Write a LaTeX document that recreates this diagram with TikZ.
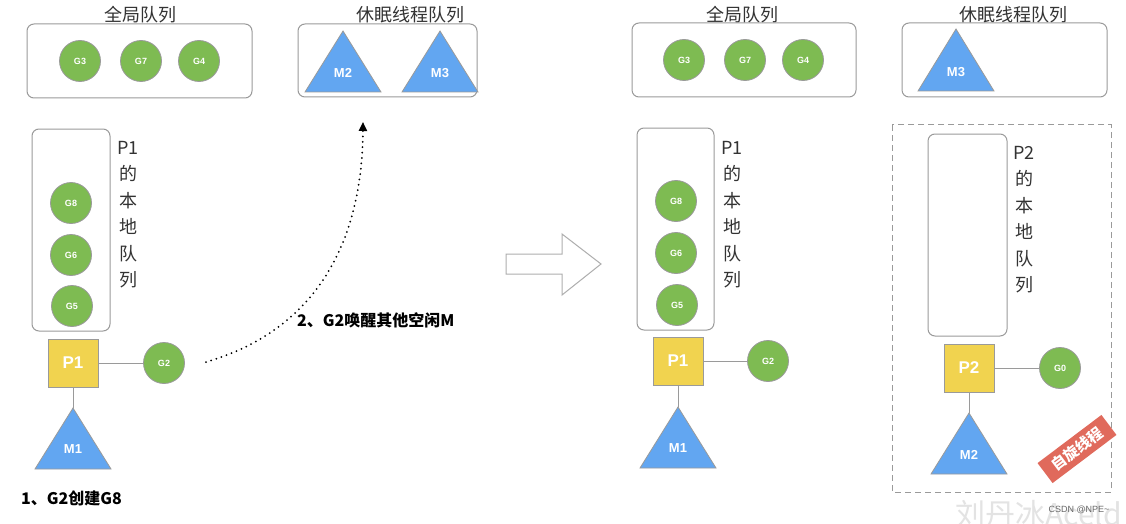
\documentclass[tikz,border=0pt]{standalone}
\usepackage{fontspec}
\setmainfont{Noto Sans CJK SC}
\newfontfamily\lat{Liberation Sans}
\usetikzlibrary{arrows.meta}

\definecolor{ggreen}{HTML}{7EBB52}
\definecolor{pyellow}{HTML}{F1D34F}
\definecolor{mblue}{HTML}{62A6F1}
\definecolor{spinred}{HTML}{E06A5C}
\definecolor{edgegray}{HTML}{9A9A9A}
\definecolor{txtgray}{HTML}{333333}

\begin{document}
\begin{tikzpicture}[x=1pt, y=-1pt,
    gnode/.style={circle, fill=ggreen, draw=edgegray, line width=0.8pt, minimum size=41pt, inner sep=0pt, text=white, font=\lat\bfseries\fontsize{9}{9}\selectfont},
    pnode/.style={rectangle, fill=pyellow, draw=edgegray, line width=0.8pt, minimum width=50pt, minimum height=48pt, text=white, font=\lat\bfseries\fontsize{17}{17}\selectfont},
    mtri/.style={fill=mblue, draw=edgegray, line width=0.8pt},
    mlabel/.style={text=white, inner sep=0pt, font=\lat\bfseries\fontsize{13}{13}\selectfont},
    qbox/.style={draw=edgegray, line width=1pt, rounded corners=7pt},
    title/.style={text=txtgray, inner sep=0pt, font=\fontsize{18}{18}\selectfont},
    vtext/.style={text=txtgray, align=center, anchor=north, inner sep=0pt, font=\fontsize{18}{26.5}\selectfont},
    link/.style={draw=edgegray, line width=1pt},
    note/.style={anchor=west, inner sep=0pt, font=\bfseries\fontsize{16}{16}\selectfont}
]
    \fill[white] (0,0) rectangle (1126,524);
    \useasboundingbox (0,0) rectangle (1126,524);

    % Left: global queue
    \node[title] (gtitle) at (140,15) {全局队列};
    \draw[qbox] (27,24) rectangle (252,98);
    \node[gnode] (g3) at (80,61)  {G3};
    \node[gnode] (g7) at (141,61) {G7};
    \node[gnode] (g4) at (199,61) {G4};

    % Left: sleeping threads
    \node[title] (stitle) at (410,15) {休眠线程队列};
    \draw[qbox] (298,24) rectangle (477,97);
    \draw[mtri] (343,31) -- (381,92) -- (305,92) -- cycle;
    \node[mlabel] (m2) at (343,73) {M2};
    \draw[mtri] (440,31) -- (478,92) -- (402,92) -- cycle;
    \node[mlabel] (m3) at (440,73) {M3};

    % Left: local queue of P1
    \draw[qbox] (32,129) rectangle (110,331);
    \node[vtext] (ltext) at (128,141) {P1\\的\\本\\地\\队\\列};
    \node[gnode] (g8) at (71,203) {G8};
    \node[gnode] (g6) at (71,255) {G6};
    \node[gnode] (g5) at (72,306) {G5};

    % Left: P1, G2, M1
    \node[pnode] (p1) at (73,363) {P1};
    \node[gnode] (g2) at (164,363) {G2};
    \draw[mtri] (73,408) -- (111,469) -- (35,469) -- cycle;
    \coordinate (m1top) at (73,408);
    \node[mlabel] (m1) at (73,449) {M1};
    \draw[link] (p1) -- (g2);
    \draw[link] (p1) -- (m1top);
    \node[note] (step1) at (21,498) {1、G2创建G8};

    % Wake up arrow
    \coordinate (wakefrom) at (206,362);
    \coordinate (waketo) at (363,122);
    \draw[line width=2pt, dash pattern=on 0pt off 5.4pt, line cap=round, -{Triangle[length=9pt,width=8pt]}]
        (wakefrom) .. controls (290,338) and (362,272) .. (waketo);
    \node[note] (step2) at (297,320) {2、G2唤醒其他空闲M};

    % Big arrow
    \draw[draw=edgegray!80, line width=1pt, line join=miter]
        (506,254) -- (562,254) -- (562,234) -- (601,264) -- (562,295) -- (562,274) -- (506,274) -- cycle;

    % Right: global queue
    \node[title] (gtitle2) at (742,15) {全局队列};
    \draw[qbox] (632,23) rectangle (856,97);
    \node[gnode] (g3r) at (684,60) {G3};
    \node[gnode] (g7r) at (745,60) {G7};
    \node[gnode] (g4r) at (803,60) {G4};

    % Right: sleeping threads
    \node[title] (stitle2) at (1013,15) {休眠线程队列};
    \draw[qbox] (902,23) rectangle (1107,97);
    \draw[mtri] (956,29) -- (994,91) -- (918,91) -- cycle;
    \node[mlabel] (m3r) at (956,72) {M3};

    % Right: local queue of P1
    \draw[qbox] (637,128) rectangle (714,330);
    \node[vtext] (ltext2) at (732,141) {P1\\的\\本\\地\\队\\列};
    \node[gnode] (g8r) at (676,201) {G8};
    \node[gnode] (g6r) at (676,253) {G6};
    \node[gnode] (g5r) at (677,305) {G5};

    % Right: P1, G2, M1
    \node[pnode] (p1r) at (678,361) {P1};
    \node[gnode] (g2r) at (768,361) {G2};
    \draw[mtri] (678,407) -- (716,468) -- (640,468) -- cycle;
    \coordinate (m1rtop) at (678,407);
    \node[mlabel] (m1r) at (678,448) {M1};
    \draw[link] (p1r) -- (g2r);
    \draw[link] (p1r) -- (m1rtop);

    % Right: spinning thread box
    \draw[edgegray, line width=1pt, dash pattern=on 6pt off 4pt] (892,125) rectangle (1111,492);
    \draw[qbox] (928,134) rectangle (1007,336);
    \node[vtext] (ptext) at (1024,146) {P2\\的\\本\\地\\队\\列};
    \node[pnode] (p2) at (969,368) {P2};
    \node[gnode] (g0) at (1060,368) {G0};
    \draw[mtri] (969,413) -- (1007,474) -- (931,474) -- cycle;
    \coordinate (m2top) at (969,413);
    \node[mlabel] (m2r) at (969,455) {M2};
    \draw[link] (p2) -- (g0);
    \draw[link] (p2) -- (m2top);
    \node[fill=spinred, text=white, rotate=37, minimum width=80pt, minimum height=25pt, inner sep=0pt,
        font=\bfseries\fontsize{15}{15}\selectfont] (spin) at (1077,449) {自旋线程};

    % Watermark
    \node[anchor=north west, inner sep=0pt, text=gray!22, font=\fontsize{30}{30}\selectfont] (wm) at (955,500) {刘丹冰Aceld};
    \node[text=gray!80!black, inner sep=0pt, font=\lat\fontsize{9}{9}\selectfont] (csdn) at (1079,510) {CSDN @NPE\textasciitilde};
\end{tikzpicture}
\end{document}
